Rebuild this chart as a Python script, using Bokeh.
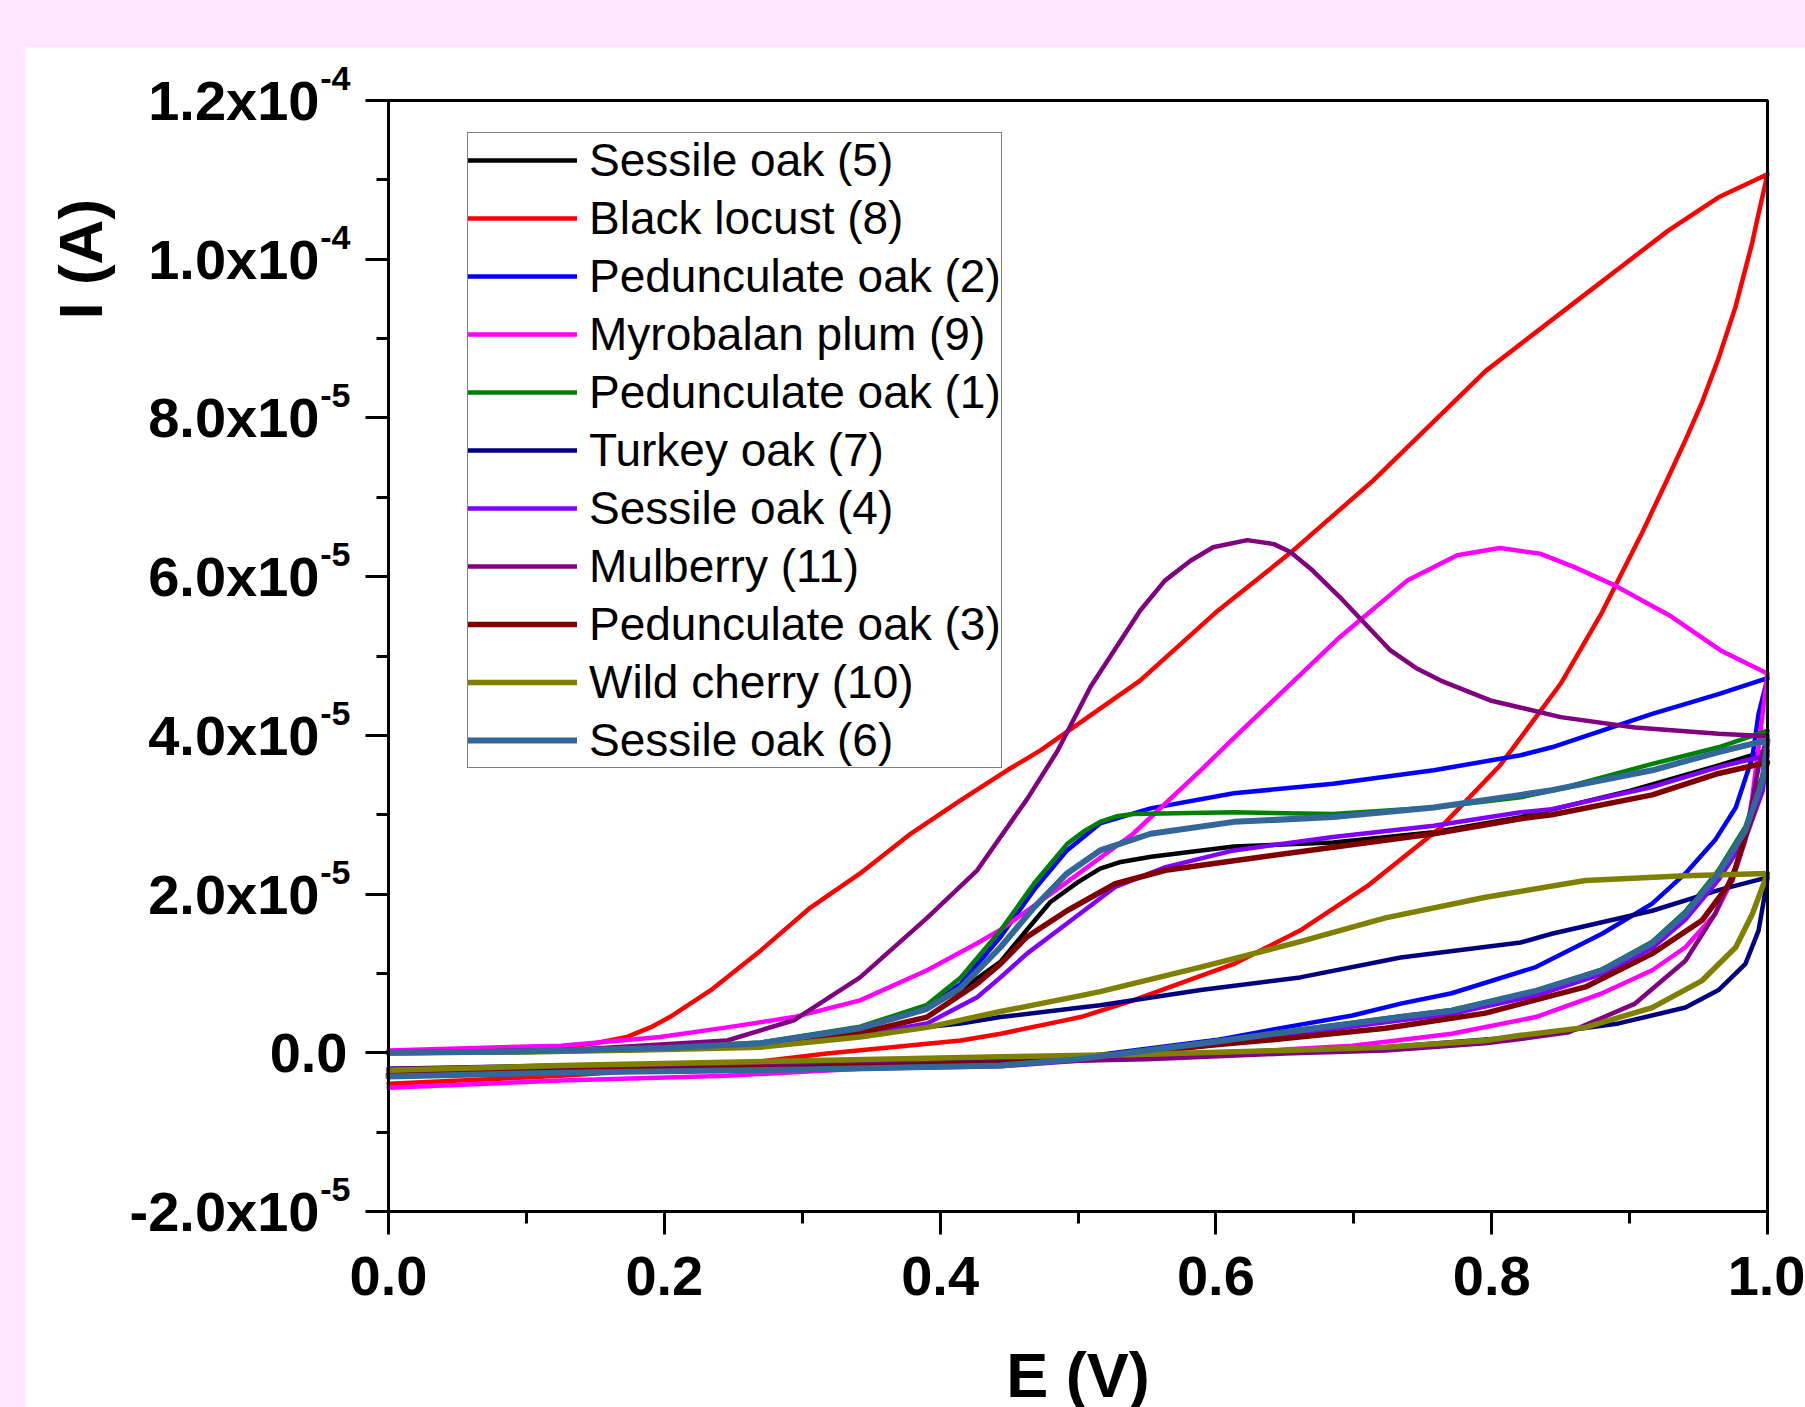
import numpy as np
from bokeh.plotting import figure
from bokeh.models import (Range1d, FixedTicker, Legend, LegendItem, Label, LabelSet, LinearAxis,
                          BoxAnnotation, ColumnDataSource, CustomJSTickFormatter)
from bokeh.core.properties import value
from bokeh.embed import file_html
from bokeh.resources import INLINE

# ---------------- data (current in units of 1e-5 A) ----------------
SCALE = 1e-5

series_names = ["Sessile oak (5)", "Black locust (8)", "Pedunculate oak (2)", "Myrobalan plum (9)",
                "Pedunculate oak (1)", "Turkey oak (7)", "Sessile oak (4)", "Mulberry (11)",
                "Pedunculate oak (3)", "Wild cherry (10)", "Sessile oak (6)"]
series_colors = ["#000000", "#FF0000", "#0000FF", "#FF00FF", "#008000", "#000080",
                 "#8000FF", "#800080", "#800000", "#808000", "#336699"]

# common potentials used by several oak curves
oak_E_dn = [1.0, 0.9965, 0.984, 0.9645, 0.9405, 0.9164, 0.88, 0.832, 0.771, 0.734, 0.699,
            0.65, 0.6, 0.55, 0.5, 0.444, 0.3, 0.125, 0.0]
oak_E_up = [0.0, 0.1, 0.2, 0.27, 0.342, 0.39, 0.415, 0.4438, 0.468, 0.492, 0.516, 0.5526,
            0.613, 0.685, 0.758, 0.821, 0.8436, 0.9164, 0.9645, 1.0]

# Sessile oak (5)
s5_E_up = [0.0, 0.1, 0.2, 0.27, 0.34, 0.39, 0.42, 0.444, 0.463, 0.48, 0.5, 0.516, 0.53, 0.553,
           0.613, 0.685, 0.758, 0.821, 0.9, 0.9645, 1.0]
s5_I_up = [0.0, 0.02, 0.06, 0.12, 0.3, 0.55, 0.85, 1.15, 1.55, 1.9, 2.15, 2.32, 2.4, 2.47,
           2.6, 2.65, 2.78, 2.97, 3.3, 3.62, 3.81]
s5_E_dn = oak_E_dn
s5_I_dn = [3.81, 3.35, 2.76, 2.22, 1.72, 1.35, 1.02, 0.75, 0.51, 0.43, 0.35, 0.24, 0.12,
           0.01, -0.09, -0.16, -0.21, -0.25, -0.3]

# Black locust (8)
bl_E_up = [0.0, 0.125, 0.15, 0.173, 0.19, 0.204, 0.2335, 0.27, 0.306, 0.342, 0.3786, 0.4148,
           0.4486, 0.4728, 0.545, 0.6, 0.654, 0.714, 0.7955, 0.868, 0.928, 0.9645, 1.0]
bl_I_up = [0.0, 0.07, 0.12, 0.2, 0.32, 0.45, 0.785, 1.29, 1.83, 2.26, 2.76, 3.18, 3.56,
           3.81, 4.69, 5.55, 6.3, 7.21, 8.59, 9.56, 10.36, 10.78, 11.07]
bl_E_dn = [1.0, 0.9936, 0.9888, 0.9768, 0.9645, 0.9526, 0.9405, 0.928, 0.909, 0.88,
           0.85, 0.806, 0.763, 0.7097, 0.661, 0.613, 0.54, 0.502, 0.444, 0.415, 0.318, 0.2456,
           0.125, 0.0]
bl_I_dn = [11.07, 10.58, 10.2, 9.4, 8.75, 8.2, 7.72, 7.25, 6.55, 5.55, 4.65, 3.62,
           2.84, 2.1, 1.54, 1.12, 0.66, 0.45, 0.24, 0.155, -0.01, -0.16, -0.29, -0.39]

# Pedunculate oak (2)
p2_E_up = oak_E_up
p2_I_up = [0.0, 0.02, 0.06, 0.12, 0.32, 0.57, 0.87, 1.46, 2.05, 2.55, 2.89, 3.08, 3.27,
           3.39, 3.56, 3.75, 3.85, 4.27, 4.52, 4.72]
p2_E_dn = [1.0, 0.9935, 0.989, 0.977, 0.962, 0.9405, 0.9164, 0.88, 0.832, 0.771, 0.734,
           0.699, 0.65, 0.6, 0.54, 0.5, 0.444, 0.3, 0.125, 0.0]
p2_I_dn = [4.72, 4.27, 3.72, 3.09, 2.68, 2.26, 1.88, 1.50, 1.08, 0.75, 0.62, 0.47, 0.32,
           0.16, 0.03, -0.06, -0.14, -0.2, -0.24, -0.28]

# Myrobalan plum (9)
mp_E_up = [0.0, 0.125, 0.197, 0.2456, 0.294, 0.342, 0.3906, 0.4269, 0.4438, 0.492, 0.54,
           0.589, 0.618, 0.69, 0.7387, 0.775, 0.806, 0.835, 0.86, 0.888, 0.93, 0.966, 1.0]
mp_I_up = [0.03, 0.09, 0.2, 0.32, 0.45, 0.66, 1.04, 1.38, 1.55, 2.15, 2.76, 3.56, 4.05,
           5.24, 5.95, 6.27, 6.36, 6.29, 6.12, 5.9, 5.5, 5.07, 4.78]
mp_E_dn = [1.0, 0.9935, 0.989, 0.984, 0.9744, 0.962, 0.9405, 0.9164, 0.88, 0.832, 0.771,
           0.734, 0.699, 0.65, 0.6, 0.5, 0.366, 0.2456, 0.125, 0.0]
mp_I_dn = [4.78, 3.85, 3.22, 2.68, 2.17, 1.75, 1.33, 1.04, 0.75, 0.45, 0.24, 0.16, 0.09,
           0.04, -0.02, -0.1, -0.18, -0.29, -0.35, -0.44]

# Pedunculate oak (1)
p1_E_up = [0.0, 0.1, 0.2, 0.27, 0.342, 0.39, 0.415, 0.4438, 0.468, 0.492, 0.505, 0.516, 0.528,
           0.54, 0.613, 0.685, 0.758, 0.821, 0.8436, 0.9164, 0.9645, 1.0]
p1_I_up = [0.0, 0.02, 0.06, 0.13, 0.33, 0.6, 0.95, 1.54, 2.13, 2.63, 2.8, 2.91, 2.98,
           3.01, 3.03, 3.01, 3.09, 3.22, 3.3, 3.64, 3.85, 4.06]
p1_E_dn = oak_E_dn
p1_I_dn = [4.06, 3.5, 2.85, 2.3, 1.78, 1.4, 1.05, 0.78, 0.54, 0.46, 0.38, 0.27, 0.15,
           0.04, -0.07, -0.15, -0.2, -0.24, -0.29]

# Turkey oak (7)
to_E_up = [0.0, 0.1, 0.2, 0.27, 0.342, 0.415, 0.4438, 0.502, 0.516, 0.589, 0.661, 0.734,
           0.821, 0.8436, 0.9164, 0.9645, 1.0]
to_I_up = [0.0, 0.01, 0.04, 0.09, 0.24, 0.37, 0.45, 0.57, 0.60, 0.79, 0.95, 1.2, 1.39,
           1.50, 1.79, 2.05, 2.21]
to_E_dn = [1.0, 0.9986, 0.9935, 0.984, 0.9645, 0.9405, 0.892, 0.8196, 0.723, 0.65, 0.55,
           0.444, 0.3, 0.125, 0.0]
to_I_dn = [2.21, 2.05, 1.54, 1.12, 0.79, 0.57, 0.37, 0.2, 0.07, 0.03, -0.02, -0.07,
           -0.12, -0.16, -0.2]

# Sessile oak (4)
s4_E_up = [0.0, 0.1, 0.2, 0.27, 0.342, 0.3906, 0.4269, 0.4438, 0.463, 0.492, 0.527, 0.5635,
           0.613, 0.685, 0.758, 0.821, 0.8436, 0.9164, 0.9645, 1.0]
s4_I_up = [0.0, 0.02, 0.05, 0.1, 0.22, 0.37, 0.70, 0.95, 1.25, 1.63, 2.09, 2.34, 2.55,
           2.72, 2.86, 3.03, 3.07, 3.35, 3.60, 3.75]
s4_E_dn = oak_E_dn
s4_I_dn = [3.75, 3.3, 2.7, 2.18, 1.68, 1.32, 0.99, 0.72, 0.49, 0.41, 0.33, 0.22, 0.1,
           0.0, -0.1, -0.17, -0.21, -0.25, -0.29]

# Mulberry (11)
mb_E_up = [0.0, 0.125, 0.2456, 0.294, 0.342, 0.3906, 0.4269, 0.4632, 0.485, 0.509, 0.545,
           0.563, 0.5816, 0.598, 0.6227, 0.642, 0.654, 0.67, 0.690, 0.7266, 0.745, 0.763,
           0.799, 0.85, 0.904, 0.9645, 1.0]
mb_I_up = [0.0, 0.03, 0.155, 0.41, 0.95, 1.7, 2.3, 3.2, 3.8, 4.61, 5.57, 5.95, 6.20, 6.37,
           6.46, 6.41, 6.31, 6.08, 5.74, 5.07, 4.85, 4.69, 4.44, 4.23, 4.10, 4.02, 3.99]
mb_E_dn = [1.0, 0.9935, 0.986, 0.9768, 0.962, 0.9405, 0.904, 0.856, 0.8196, 0.7955, 0.723,
           0.65, 0.55, 0.444, 0.3, 0.125, 0.0]
mb_I_dn = [3.99, 3.60, 2.89, 2.34, 1.75, 1.16, 0.62, 0.26, 0.17, 0.12, 0.03, -0.01,
           -0.08, -0.12, -0.15, -0.18, -0.2]

# Pedunculate oak (3)
p3_E_up = [0.0, 0.1, 0.2, 0.27, 0.342, 0.3906, 0.4269, 0.4438, 0.463, 0.492, 0.527, 0.5635,
           0.613, 0.685, 0.758, 0.821, 0.8436, 0.9164, 0.9645, 1.0]
p3_I_up = [0.0, 0.02, 0.05, 0.11, 0.25, 0.45, 0.87, 1.12, 1.46, 1.79, 2.13, 2.30, 2.42,
           2.59, 2.76, 2.95, 3.0, 3.25, 3.52, 3.66]
p3_E_dn = [1.0, 0.9965, 0.989, 0.974, 0.9526, 0.9164, 0.868, 0.7955, 0.723, 0.65, 0.6,
           0.55, 0.5, 0.444, 0.3, 0.125, 0.0]
p3_I_dn = [3.66, 3.45, 3.01, 2.17, 1.67, 1.25, 0.83, 0.5, 0.31, 0.18, 0.1, 0.02, -0.06,
           -0.13, -0.19, -0.23, -0.27]

# Wild cherry (10)
wc_E_up = [0.0, 0.1, 0.2, 0.27, 0.342, 0.3906, 0.4438, 0.502, 0.516, 0.589, 0.661, 0.723,
           0.7955, 0.868, 0.9405, 1.0]
wc_I_up = [0.0, 0.01, 0.04, 0.07, 0.2, 0.32, 0.52, 0.72, 0.77, 1.08, 1.40, 1.70, 1.96,
           2.17, 2.23, 2.26]
wc_E_dn = [1.0, 0.989, 0.977, 0.9526, 0.9164, 0.868, 0.821, 0.7955, 0.723, 0.65, 0.55,
           0.444, 0.3, 0.125, 0.0]
wc_I_dn = [2.26, 1.75, 1.33, 0.91, 0.57, 0.32, 0.22, 0.155, 0.07, 0.03, -0.02, -0.05,
           -0.1, -0.16, -0.22]

# Sessile oak (6)
s6_E_up = oak_E_up
s6_I_up = [0.0, 0.02, 0.06, 0.12, 0.31, 0.55, 0.82, 1.33, 1.83, 2.26, 2.55, 2.76, 2.91,
           2.97, 3.09, 3.25, 3.31, 3.56, 3.79, 3.94]
s6_E_dn = oak_E_dn
s6_I_dn = [3.94, 3.43, 2.80, 2.26, 1.75, 1.38, 1.04, 0.78, 0.53, 0.45, 0.37, 0.26, 0.14,
           0.03, -0.08, -0.16, -0.21, -0.25, -0.3]

series_data = [
    (s5_E_up, s5_I_up, s5_E_dn, s5_I_dn),
    (bl_E_up, bl_I_up, bl_E_dn, bl_I_dn),
    (p2_E_up, p2_I_up, p2_E_dn, p2_I_dn),
    (mp_E_up, mp_I_up, mp_E_dn, mp_I_dn),
    (p1_E_up, p1_I_up, p1_E_dn, p1_I_dn),
    (to_E_up, to_I_up, to_E_dn, to_I_dn),
    (s4_E_up, s4_I_up, s4_E_dn, s4_I_dn),
    (mb_E_up, mb_I_up, mb_E_dn, mb_I_dn),
    (p3_E_up, p3_I_up, p3_E_dn, p3_I_dn),
    (wc_E_up, wc_I_up, wc_E_dn, wc_I_dn),
    (s6_E_up, s6_I_up, s6_E_dn, s6_I_dn),
]
series_widths = [4.5, 4.5, 4.5, 4.5, 4.5, 4.5, 4.5, 4.5, 5.5, 5.5, 6]

x_limits = (0.0, 1.0)
y_limits = (-2e-5, 1.2e-4)
x_ticks = [0.0, 0.2, 0.4, 0.6, 0.8, 1.0]
x_minor = [0.1, 0.3, 0.5, 0.7, 0.9]
x_tick_labels = ["0.0", "0.2", "0.4", "0.6", "0.8", "1.0"]
y_ticks = [-2e-5, 0.0, 2e-5, 4e-5, 6e-5, 8e-5, 1e-4, 1.2e-4]
y_minor = [-1e-5, 1e-5, 3e-5, 5e-5, 7e-5, 9e-5, 1.1e-4]
y_tick_base = ["-2.0x10", "0.0", "2.0x10", "4.0x10", "6.0x10", "8.0x10", "1.0x10", "1.2x10"]
y_tick_exp = ["-5", "", "-5", "-5", "-5", "-5", "-4", "-4"]

FONT = "Liberation Sans"

# ---------------- layout geometry (canvas pixels) ----------------
W, H = 1780, 1360
BOX_L, BOX_R, BOX_T, BOX_B = 363, 1742, 53, 1164
kx = (x_limits[1] - x_limits[0]) / (BOX_R - BOX_L)
ky = (y_limits[1] - y_limits[0]) / (BOX_B - BOX_T)
x_range = Range1d(x_limits[0] - BOX_L * kx, x_limits[1] + (W - BOX_R) * kx)
y_range = Range1d(y_limits[0] - (H - BOX_B) * ky, y_limits[1] + BOX_T * ky)

p = figure(width=W, height=H, x_range=x_range, y_range=y_range,
           x_axis_location=None, y_axis_location=None,
           output_backend="svg", toolbar_location=None, min_border=0,
           margin=(47, 0, 0, 25))
p.background_fill_color = "white"
p.border_fill_color = "white"
p.outline_line_color = None
for g in p.grid:
    g.visible = False
    g.grid_line_color = None

xaxis = LinearAxis(fixed_location=y_limits[0], bounds=x_limits,
                   ticker=FixedTicker(ticks=x_ticks, minor_ticks=x_minor),
                   formatter=CustomJSTickFormatter(
                       args=dict(tvals=x_ticks, tlabels=x_tick_labels),
                       code="for (let i = 0; i < tvals.length; i++) { if (Math.abs(tvals[i] - tick) < 1e-9) return tlabels[i]; } return '';"))
yaxis = LinearAxis(fixed_location=x_limits[0], bounds=y_limits,
                   ticker=FixedTicker(ticks=y_ticks, minor_ticks=y_minor),
                   formatter=CustomJSTickFormatter(code="return '';"))
for ax in (xaxis, yaxis):
    ax.axis_line_width = 3
    ax.axis_line_color = "black"
    ax.major_tick_line_width = 3
    ax.minor_tick_line_width = 3
    ax.major_tick_line_color = "black"
    ax.minor_tick_line_color = "black"
    ax.major_tick_in = 0
    ax.minor_tick_in = 0
    ax.major_tick_out = 23
    ax.minor_tick_out = 12
    ax.major_label_text_font = FONT
    ax.major_label_text_font_style = "bold"
    ax.major_label_text_font_size = "56px"
    ax.major_label_text_color = "black"
xaxis.major_label_standoff = 22
p.add_layout(xaxis, "below")
p.add_layout(yaxis, "left")

# ---------------- curves ----------------
items = []
for name, color, (eu, iu, ed, idn), lw in zip(series_names, series_colors, series_data, series_widths):
    xs = list(eu) + list(ed)
    ys = [v * SCALE for v in list(iu) + list(idn)]
    r = p.line(xs, ys, line_color=color, line_width=lw, line_join="round", line_cap="round")
    items.append(LegendItem(label=name, renderers=[r]))

# plot box (top and right edges as in the original frame)
p.add_layout(BoxAnnotation(left=x_limits[0], right=x_limits[1], bottom=y_limits[0], top=y_limits[1],
                           fill_color=None, fill_alpha=0, line_color="black", line_alpha=1.0,
                           line_width=3))

legend = Legend(items=items, location=(442, 639), padding=0, margin=0, spacing=4,
                glyph_width=109, glyph_height=20, label_height=52, label_standoff=12,
                label_text_font=FONT, label_text_font_size="46px", label_text_color="black",
                border_line_color="black", border_line_width=1.5,
                background_fill_color="white", background_fill_alpha=1.0)
p.add_layout(legend)

# ---------------- y tick labels with superscript exponents ----------------
exp_idx = [i for i, e in enumerate(y_tick_exp) if e]
tick_src = ColumnDataSource(dict(
    x=[x_limits[0]] * len(exp_idx),
    y=[y_ticks[i] for i in exp_idx],
    t=[y_tick_base[i] for i in exp_idx],
    e=[y_tick_exp[i] for i in exp_idx]))
p.add_layout(LabelSet(x="x", y="y", text="t", source=tick_src, x_offset=-69,
                      text_align="right", text_baseline="middle",
                      text_font=value(FONT), text_font_style="bold", text_font_size="56px",
                      text_color="black"))
p.add_layout(LabelSet(x="x", y="y", text="e", source=tick_src, x_offset=-38, y_offset=22,
                      text_align="right", text_baseline="middle",
                      text_font=value(FONT), text_font_style="bold", text_font_size="34px",
                      text_color="black"))
for i, e in enumerate(y_tick_exp):
    if not e:
        p.add_layout(Label(x=x_limits[0], y=y_ticks[i], text=y_tick_base[i], x_offset=-41,
                           text_align="right", text_baseline="middle",
                           text_font=FONT, text_font_style="bold", text_font_size="56px",
                           text_color="black"))

# ---------------- axis titles ----------------
p.add_layout(Label(x=0.5, y=y_limits[0], text="E (V)", y_offset=-163,
                   text_align="center", text_baseline="alphabetic",
                   text_font=FONT, text_font_style="bold", text_font_size="63px",
                   text_color="black"))
p.add_layout(Label(x=x_limits[0], y=1.0e-4, text="I (A)", x_offset=-308, angle=np.pi / 2,
                   text_align="center", text_baseline="alphabetic",
                   text_font=FONT, text_font_style="bold", text_font_size="62px",
                   text_color="black"))

html = file_html(p, INLINE, title="Cyclic voltammograms")
html = html.replace("</head>",
                    "<style>html,body{margin:0;padding:0;overflow:hidden;background:#FFE6FF;}</style></head>", 1)
open("out.html", "w").write(html)
